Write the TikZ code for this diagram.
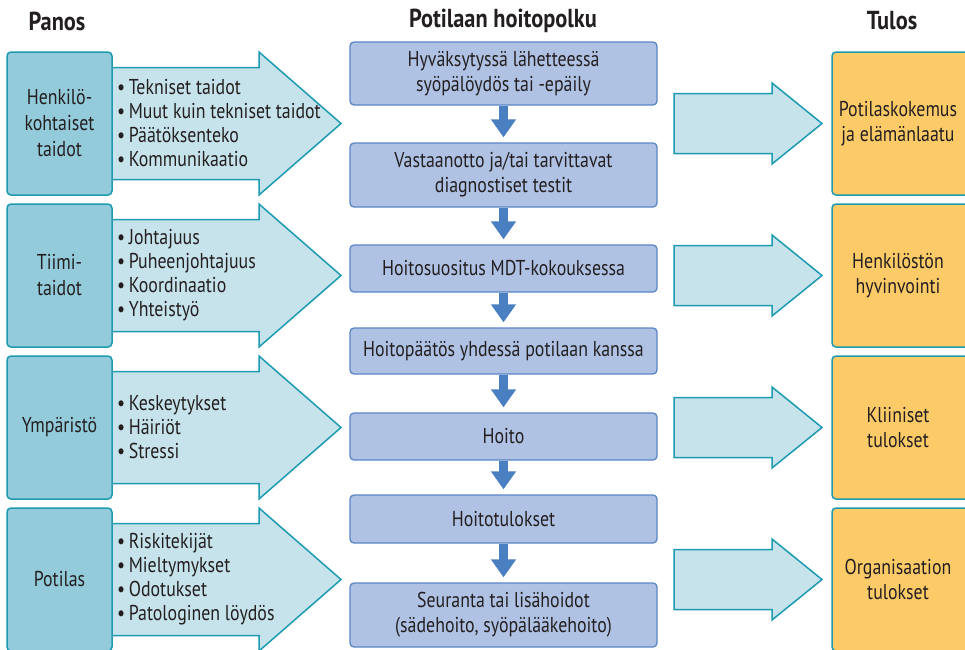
\documentclass[tikz,border=0pt]{standalone}
\usepackage{fontspec}
\setmainfont[FakeStretch=0.83]{PT Sans}
\newfontfamily\hdfont[FakeStretch=0.86]{PT Sans}
\usetikzlibrary{arrows.meta}
\definecolor{cTeal}{HTML}{1D9AB1}
\definecolor{cLbox}{HTML}{93CBDA}
\definecolor{cArr}{HTML}{C6E3EB}
\definecolor{cMid}{HTML}{AFC2E4}
\definecolor{cMidB}{HTML}{5A86C6}
\definecolor{cDown}{HTML}{4A7FC2}
\definecolor{cRbox}{HTML}{FCCB68}
\definecolor{cTxt}{HTML}{231F20}
\tikzset{
  base/.style={text=cTxt, font=\fontsize{21.5}{25}\selectfont, align=center, inner sep=0pt},
  lbox/.style={base, font=\fontsize{21.5}{26}\selectfont, draw=cTeal, fill=cLbox, line width=1.5pt, rounded corners=4pt, minimum width=105pt, minimum height=143pt},
  rbox/.style={draw=cTeal, fill=cRbox, line width=1.5pt, rounded corners=4pt, minimum width=140pt, minimum height=143pt, inner sep=0pt},
  rtext/.style={base},
  bigarrow/.style={draw=cTeal, fill=cArr, line width=1.5pt, line join=miter},
  bullets/.style={base, font=\fontsize{21.5}{24}\selectfont, align=left, anchor=west},
  mbox/.style={base, draw=cMidB, fill=cMid, line width=1.3pt, rounded corners=4pt, minimum width=307pt},
  down/.style={draw=cDown, line width=9pt, -{Triangle[width=24pt,length=18pt]}, shorten >=5pt},
  header/.style={text=cTxt, font=\hdfont\bfseries\fontsize{26}{28}\selectfont, inner sep=0pt}
}
\begin{document}
\begin{tikzpicture}[x=1pt,y=-1pt]
\useasboundingbox (0,0) rectangle (965,649);
\clip (0,0) rectangle (965,649);
% headers
\node[header] (hP) at (57,21) {Panos};
\node[header] (hH) at (503,21) {Potilaan hoitopolku};
\node[header] (hT) at (892,21) {Tulos};
% big arrows
\foreach \yc in {123.5,275.5,427.5,579.5}{
  \draw[bigarrow] (112,\yc-56) -- (259,\yc-56) -- (259,\yc-71.5) -- (341,\yc) -- (259,\yc+71.5) -- (259,\yc+56) -- (112,\yc+56) -- cycle;
  \draw[bigarrow] (674,\yc-30) -- (772,\yc-30) -- (772,\yc-40.5) -- (822,\yc) -- (772,\yc+40.5) -- (772,\yc+30) -- (674,\yc+30) -- cycle;
}
% left boxes
\node[lbox] (L1) at (59.5,123.5) {Henkilö-\\kohtaiset\\taidot};
\node[lbox] (L2) at (59.5,275.5) {Tiimi-\\taidot};
\node[lbox] (L3) at (59.5,427.5) {Ympäristö};
\node[lbox] (L4) at (59.5,579.5) {Potilas};
% bullet lists
\node[bullets] (B1) at (117,123.5) {\textbullet\,Tekniset taidot\\\textbullet\,Muut kuin tekniset taidot\\\textbullet\,Päätöksenteko\\\textbullet\,Kommunikaatio};
\node[bullets] (B2) at (117,275.5) {\textbullet\,Johtajuus\\\textbullet\,Puheenjohtajuus\\\textbullet\,Koordinaatio\\\textbullet\,Yhteistyö};
\node[bullets] (B3) at (117,427.5) {\textbullet\,Keskeytykset\\\textbullet\,Häiriöt\\\textbullet\,Stressi};
\node[bullets] (B4) at (117,579.5) {\textbullet\,Riskitekijät\\\textbullet\,Mieltymykset\\\textbullet\,Odotukset\\\textbullet\,Patologinen löydös};
% middle boxes
\node[mbox, minimum height=63pt] (M1) at (503.5,73.5) {Hyväksytyssä lähetteessä\\syöpälöydös tai -epäily};
\node[mbox, minimum height=64pt] (M2) at (503.5,175) {Vastaanotto ja/tai tarvittavat\\diagnostiset testit};
\node[mbox, minimum height=47pt] (M3) at (503.5,268.5) {Hoitosuositus MDT-kokouksessa};
\node[mbox, minimum height=46pt] (M4) at (503.5,351) {Hoitopäätös yhdessä potilaan kanssa};
\node[mbox, minimum height=47pt] (M5) at (503.5,436.5) {Hoito};
\node[mbox, minimum height=48pt] (M6) at (503.5,519) {Hoitotulokset};
\node[mbox, minimum height=64pt] (M7) at (503.5,615) {Seuranta tai lisähoidot\\(sädehoito, syöpälääkehoito)};
\draw[down] (M1.south) -- (M2.north);
\draw[down] (M2.south) -- (M3.north);
\draw[down] (M3.south) -- (M4.north);
\draw[down] (M4.south) -- (M5.north);
\draw[down] (M5.south) -- (M6.north);
\draw[down] (M6.south) -- (M7.north);
% right boxes
\node[rbox] (R1) at (902,123.5) {};
\node[rbox] (R2) at (902,275.5) {};
\node[rbox] (R3) at (902,427.5) {};
\node[rbox] (R4) at (902,579.5) {};
\node[rtext] (T1) at (898,123.5) {Potilaskokemus\\ja elämänlaatu};
\node[rtext] (T2) at (898,275.5) {Henkilöstön\\hyvinvointi};
\node[rtext] (T3) at (898,427.5) {Kliiniset\\tulokset};
\node[rtext] (T4) at (898,579.5) {Organisaation\\tulokset};
\end{tikzpicture}
\end{document}
